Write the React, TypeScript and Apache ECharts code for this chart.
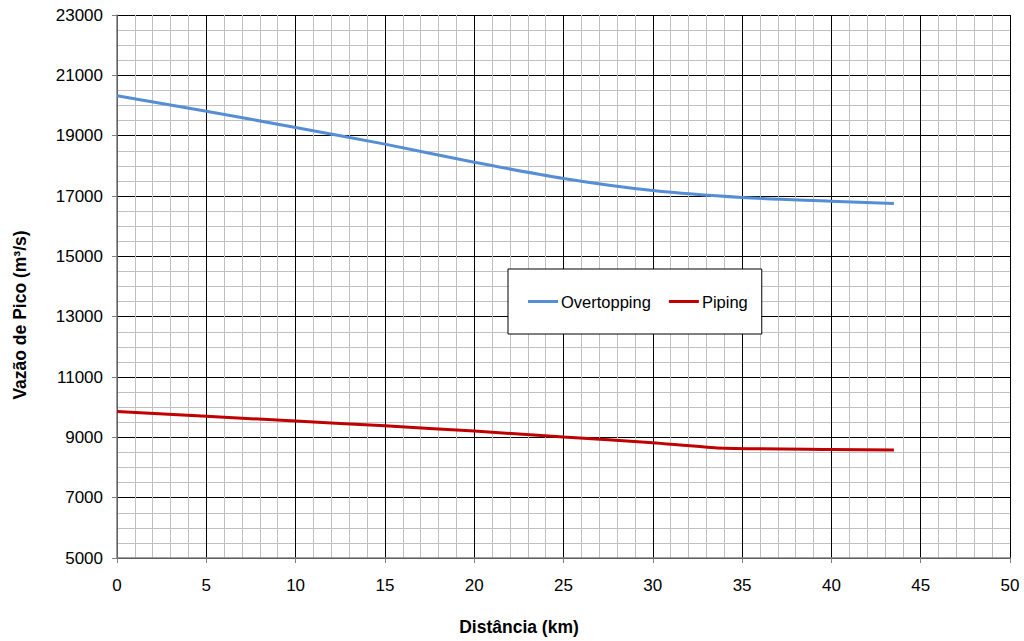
import React, { useEffect, useRef } from "react";
import * as echarts from "echarts";

const overtoppingX = [0, 5, 10, 15, 20, 25, 30, 35, 40, 43.5];
const overtoppingY = [20320, 19810, 19270, 18720, 18120, 17580, 17180, 16950, 16830, 16750];
const pipingX = [0, 5, 10, 15, 20, 25, 30, 33.6, 40, 43.5];
const pipingY = [9860, 9700, 9540, 9380, 9210, 9010, 8820, 8650, 8600, 8580];
const seriesNames = ["Overtopping", "Piping"];
const xAxisTitle = "Distância (km)";
const yAxisTitle = "Vazão de Pico (m³/s)";

export default function App() {
  const ref = useRef<HTMLDivElement>(null);
  useEffect(() => {
    if (!ref.current) return;
    const chart = echarts.init(ref.current, null, { renderer: "svg" });
    const font = "'Liberation Sans', Arial, sans-serif";
    chart.setOption({
      animation: false,
      backgroundColor: "#fff",
      textStyle: { fontFamily: font },
      grid: { left: 117, right: 14, top: 15, bottom: 83, containLabel: false, outerBoundsMode: "none" },
      legend: {
        data: seriesNames,
        left: 508,
        top: 269,
        orient: "horizontal",
        backgroundColor: "#fff",
        borderColor: "#000",
        borderWidth: 1,
        padding: [24, 14, 24, 20],
        itemGap: 18,
        itemWidth: 30,
        itemHeight: 3,
        icon: "rect",
        textStyle: { fontSize: 16.5, color: "#000", fontFamily: font, padding: [0, 0, 0, -2] },
      },
      xAxis: {
        type: "value",
        min: 0,
        max: 50,
        interval: 5,
        axisLine: { show: true, onZero: false, lineStyle: { color: "#808080", width: 1.5 } },
        axisTick: { show: true, length: 5, lineStyle: { color: "#808080" } },
        axisLabel: { fontSize: 17, color: "#000", margin: 19, fontFamily: font, formatter: (v: number) => String(v) },
        splitLine: { show: true, lineStyle: { color: "#000", width: 1 } },
        minorTick: { show: false, splitNumber: 5 },
        minorSplitLine: { show: true, lineStyle: { color: "#c0c0c0", width: 1 } },
      },
      yAxis: {
        type: "value",
        min: 5000,
        max: 23000,
        interval: 2000,
        axisLine: { show: true, onZero: false, lineStyle: { color: "#808080", width: 1.5 } },
        axisTick: { show: true, length: 5, lineStyle: { color: "#808080" } },
        axisLabel: { fontSize: 17, color: "#000", margin: 14, fontFamily: font, formatter: (v: number) => String(v) },
        splitLine: { show: true, lineStyle: { color: "#000", width: 1 } },
        minorTick: { show: false, splitNumber: 4 },
        minorSplitLine: { show: true, lineStyle: { color: "#c0c0c0", width: 1 } },
      },
      graphic: [
        {
          type: "text",
          x: 519,
          y: 627,
          style: {
            text: xAxisTitle,
            font: `bold 17.5px ${font}`,
            fill: "#000",
            align: "center",
            verticalAlign: "middle",
          },
        },
        {
          type: "text",
          x: 20,
          y: 315,
          rotation: Math.PI / 2,
          style: {
            text: yAxisTitle,
            font: `bold 17.5px ${font}`,
            fill: "#000",
            align: "center",
            verticalAlign: "middle",
          },
        },
      ],
      series: [
        {
          name: seriesNames[0],
          type: "line",
          data: overtoppingX.map((x, i) => [x, overtoppingY[i]]),
          smooth: 0.3,
          showSymbol: false,
          symbol: "none",
          color: "#558ED5",
          lineStyle: { color: "#558ED5", width: 3 },
          z: 5,
        },
        {
          name: seriesNames[1],
          type: "line",
          data: pipingX.map((x, i) => [x, pipingY[i]]),
          smooth: 0.2,
          showSymbol: false,
          symbol: "none",
          color: "#C00000",
          lineStyle: { color: "#C00000", width: 3 },
          z: 5,
        },
      ],
    });
    return () => chart.dispose();
  }, []);
  return <div ref={ref} style={{ width: 1024, height: 641, position: "absolute", left: 0, top: 0 }} />;
}
